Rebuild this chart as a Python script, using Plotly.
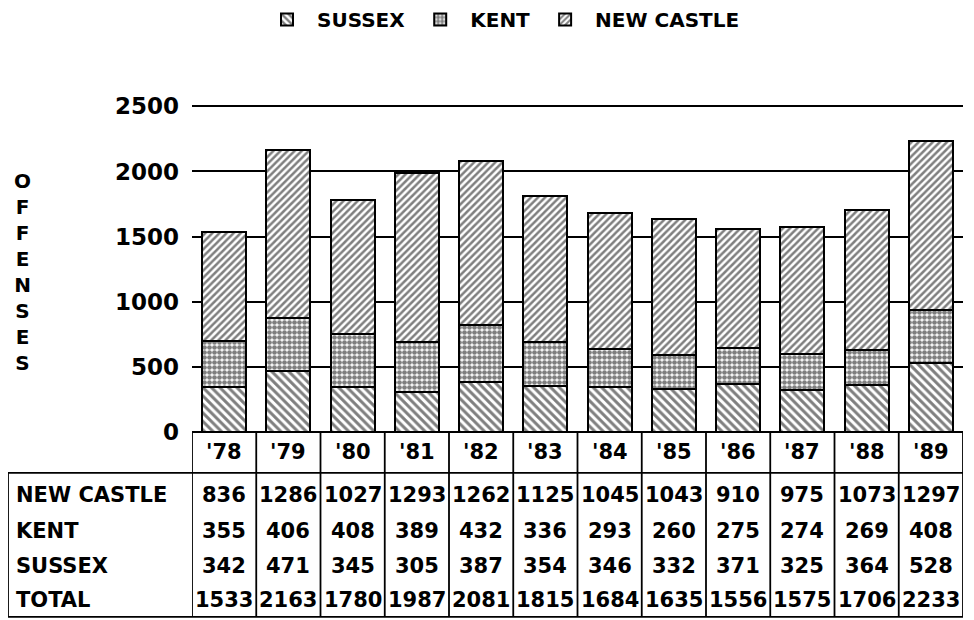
import plotly.graph_objects as go

years = ["'78", "'79", "'80", "'81", "'82", "'83", "'84", "'85", "'86", "'87", "'88", "'89"]
new_castle = [836, 1286, 1027, 1293, 1262, 1125, 1045, 1043, 910, 975, 1073, 1297]
kent = [355, 406, 408, 389, 432, 336, 293, 260, 275, 274, 269, 408]
sussex = [342, 471, 345, 305, 387, 354, 346, 332, 371, 325, 364, 528]
total = [1533, 2163, 1780, 1987, 2081, 1815, 1684, 1635, 1556, 1575, 1706, 2233]
y_ticks = [0, 500, 1000, 1500, 2000, 2500]

FONT = "DejaVu Sans"
OFF = 8                      # page body margin of the html page
W, H = 974 - 2 * OFF + 8, 620 - OFF
Y_TOP = 2510
# page-pixel geometry of the plot area
PL, PR, PB, P2500 = 192, 963, 432, 106
PX_PER_UNIT = (PB - P2500) / 2500
PT = PB - Y_TOP * PX_PER_UNIT
L, R, B, T = PL - OFF, PR - OFF, PB - OFF, PT - OFF


def fx(px):
    """page px -> paper x"""
    return (px - PL) / (PR - PL)


def fy(py):
    """page px -> paper y"""
    return (PB - py) / (PB - PT)


fig = go.Figure()
series = [
    ("SUSSEX", sussex, "\\", 6, 0.5),
    ("KENT", kent, ".", 5, 0.7),
    ("NEW CASTLE", new_castle, "/", 5, 0.5),
]
for name, vals, shape, size, sol in series:
    fig.add_trace(go.Bar(
        x=years, y=vals, name=name,
        marker=dict(color="white", line=dict(color="black", width=2),
                    pattern=dict(shape=shape, size=size, solidity=sol,
                                 fgcolor="black", bgcolor="white")),
    ))

shapes = []
lw = 1.8
for i in range(len(years) + 1):
    shapes.append(dict(type="line", xref="x", yref="paper", x0=i - 0.5, x1=i - 0.5,
                       y0=fy(432), y1=fy(617), line=dict(color="black", width=lw)))
shapes.append(dict(type="line", xref="paper", yref="paper", x0=fx(8), x1=fx(8),
                   y0=fy(473), y1=fy(617), line=dict(color="black", width=lw)))
shapes.append(dict(type="line", xref="x", yref="paper", x0=-0.5, x1=len(years) - 0.5,
                   y0=fy(432), y1=fy(432), line=dict(color="black", width=lw)))
for yy in (473, 617):
    shapes.append(dict(type="line", xref="paper", yref="paper", x0=fx(8), x1=fx(PR),
                       y0=fy(yy), y1=fy(yy), line=dict(color="black", width=lw)))

ann = []
bold = dict(family=FONT, color="black", weight="bold")
for yr in years:
    ann.append(dict(x=yr, xref="x", y=fy(452), yref="paper", text=yr, showarrow=False,
                    font=dict(size=21, **bold), xanchor="center", yanchor="middle"))
rows = [("NEW CASTLE", new_castle, 495), ("KENT", kent, 531),
        ("SUSSEX", sussex, 566), ("TOTAL", total, 600)]
for label, vals, ypx in rows:
    ann.append(dict(x=fx(14), xref="paper", y=fy(ypx), yref="paper", text=label,
                    showarrow=False, font=dict(size=21, **bold),
                    xanchor="left", yanchor="middle"))
    for yr, v in zip(years, vals):
        ann.append(dict(x=yr, xref="x", y=fy(ypx), yref="paper", text=str(v),
                        showarrow=False, font=dict(size=21, **bold),
                        xanchor="center", yanchor="middle"))
ann.append(dict(x=fx(22), xref="paper", y=fy(272), yref="paper",
                text="<br>".join(list("OFFENSES")), showarrow=False,
                font=dict(size=20, **bold), xanchor="center", yanchor="middle"))

fig.update_layout(
    width=W, height=H,
    margin=dict(l=L, r=W - R, t=T, b=H - B, pad=0, autoexpand=False),
    paper_bgcolor="white", plot_bgcolor="white",
    barmode="stack", bargap=0.315,
    font=dict(family=FONT, color="black"),
    showlegend=True,
    legend=dict(orientation="h", x=fx(257), y=fy(19), xanchor="left", yanchor="middle",
                traceorder="normal", font=dict(size=20, **bold),
                bgcolor="rgba(0,0,0,0)", itemwidth=50),
    xaxis=dict(range=[-0.5, len(years) - 0.5], showticklabels=False, showgrid=False,
               zeroline=False, showline=False, ticks=""),
    yaxis=dict(range=[0, Y_TOP], tickvals=y_ticks, showgrid=True, gridcolor="black",
               gridwidth=1.6, zeroline=False, showline=False, ticks="",
               tickfont=dict(size=23, **bold), ticklabelstandoff=12),
    shapes=shapes, annotations=ann,
)

fig.write_html("out.html")
